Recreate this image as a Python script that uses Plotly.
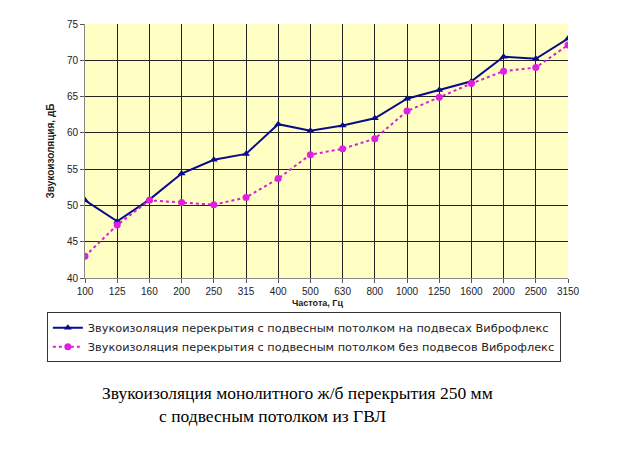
import plotly.graph_objects as go

freqs = ["100", "125", "160", "200", "250", "315", "400", "500", "630", "800",
         "1000", "1250", "1600", "2000", "2500", "3150"]
with_hangers = [50.7, 47.8, 50.8, 54.4, 56.3, 57.1, 61.2, 60.3, 61.0, 62.0,
                64.7, 65.9, 67.1, 70.5, 70.2, 73.0]
without_hangers = [43.0, 47.3, 50.7, 50.4, 50.1, 51.1, 53.7, 57.0, 57.8, 59.2,
                   63.0, 64.9, 66.8, 68.5, 69.0, 72.1]

name1 = "Звукоизоляция перекрытия с подвесным потолком на подвесах Виброфлекс"
name2 = "Звукоизоляция перекрытия с подвесным потолком без подвесов Виброфлекс"

fig = go.Figure()
fig.add_trace(go.Scatter(x=freqs, y=with_hangers, name=name1, mode="lines+markers",
                         line=dict(color="#0a0a8c", width=2),
                         marker=dict(symbol="triangle-up", size=7, color="#0a0a8c")))
fig.add_trace(go.Scatter(x=freqs, y=without_hangers, name=name2, mode="lines+markers",
                         line=dict(color="#d81ed8", width=2, dash="dot"),
                         marker=dict(symbol="circle", size=7, color="#e020e0")))

# page body has an 8px margin, so margins are set 8px smaller at left/top
fig.update_layout(
    width=640, height=463,
    margin=dict(l=77, r=80, t=10, b=193),
    paper_bgcolor="white", plot_bgcolor="#ffffc4",
    font=dict(family="Liberation Sans, Arial", size=10, color="#222"),
    showlegend=True,
    legend=dict(x=-0.079, y=-0.135, xanchor="left", yanchor="top",
                bordercolor="#333", borderwidth=1, bgcolor="white",
                font=dict(family="DejaVu Sans", size=11.3, color="#222"), tracegroupgap=0),
    xaxis=dict(type="category", range=[0, 15], showgrid=True, gridcolor="#222",
               gridwidth=1, ticks="outside", ticklen=4, tickcolor="#555",
               showline=True, linecolor="#888", tickfont=dict(size=10),
               title=None, fixedrange=True),
    yaxis=dict(range=[40, 75], dtick=5, showgrid=True, gridcolor="#222",
               gridwidth=1, ticks="outside", ticklen=4, tickcolor="#555",
               showline=True, linecolor="#888", zeroline=False,
               title=dict(text="<b>Звукоизоляция, дБ</b>", font=dict(size=10), standoff=10)),
    annotations=[
        dict(text="<b>Частота, Гц</b>", x=317, y=304, font=dict(size=9)),
        dict(text="Звукоизоляция монолитного ж/б перекрытия 250 мм", x=297, y=396,
             font=dict(family="Liberation Serif, Times New Roman", size=17.5, color="black")),
        dict(text="с подвесным потолком из ГВЛ", x=272, y=419,
             font=dict(family="Liberation Serif, Times New Roman", size=17.5, color="black")),
    ],
)

# convert annotation pixel positions (page coords) to paper coordinates
for a in fig.layout.annotations:
    a.update(xref="paper", yref="paper", showarrow=False,
             xanchor="center", yanchor="middle",
             x=(a.x - 85) / 483, y=(278 - a.y) / 260)

fig.write_html("out.html")
